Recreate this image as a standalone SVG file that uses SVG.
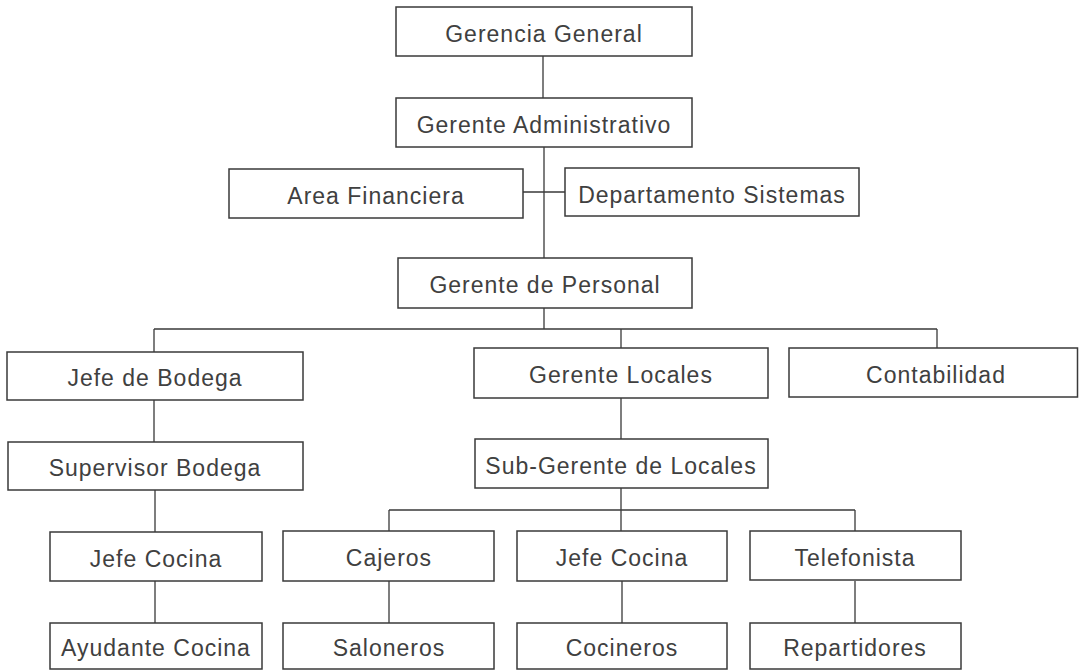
<svg xmlns="http://www.w3.org/2000/svg" width="1079" height="670" viewBox="0 0 1079 670">
<style>
.box{fill:#fff;stroke:#3a3a3a;stroke-width:1.5}
.lbl{font-family:"Liberation Sans",Arial,sans-serif;font-size:23px;letter-spacing:1px;fill:#404040;text-anchor:middle}
.con{stroke:#3a3a3a;stroke-width:1.3;fill:none}
</style>
<rect width="1079" height="670" fill="#fff"/>
<g id="connectors">
<path class="con" d="M543 56V98M544 147V258M523 192H565M544 308V329M154 329H937M154 329V352M621 329V348M937 329V348M154 400V442M621 398V439M155 490V532M621 488V531M389 510H855M389 510V531M855 510V531M155 581V623M389 581V623M622 581V623M855 581V623"/>
</g>
<g id="gerencia-general"><rect class="box" x="396" y="7" width="296" height="49"/><text class="lbl" x="544" y="42">Gerencia General</text></g>
<g id="gerente-administrativo"><rect class="box" x="396" y="98" width="296" height="49"/><text class="lbl" x="544" y="133">Gerente Administrativo</text></g>
<g id="area-financiera"><rect class="box" x="229" y="169" width="294" height="49"/><text class="lbl" x="376" y="204">Area Financiera</text></g>
<g id="departamento-sistemas"><rect class="box" x="565" y="168" width="294" height="48"/><text class="lbl" x="712" y="203">Departamento Sistemas</text></g>
<g id="gerente-personal"><rect class="box" x="398" y="258" width="294" height="50"/><text class="lbl" x="545" y="293">Gerente de Personal</text></g>
<g id="jefe-bodega"><rect class="box" x="7" y="352" width="296" height="48"/><text class="lbl" x="155" y="386">Jefe de Bodega</text></g>
<g id="gerente-locales"><rect class="box" x="474" y="348" width="294" height="50"/><text class="lbl" x="621" y="383">Gerente Locales</text></g>
<g id="contabilidad"><rect class="box" x="789" y="348" width="288.5" height="49"/><text class="lbl" x="936" y="383">Contabilidad</text></g>
<g id="supervisor-bodega"><rect class="box" x="8" y="442" width="295" height="48"/><text class="lbl" x="155" y="476">Supervisor Bodega</text></g>
<g id="sub-gerente-locales"><rect class="box" x="475" y="439" width="293" height="49"/><text class="lbl" x="621" y="474">Sub-Gerente de Locales</text></g>
<g id="jefe-cocina-1"><rect class="box" x="50" y="532" width="212" height="49"/><text class="lbl" x="156" y="567">Jefe Cocina</text></g>
<g id="cajeros"><rect class="box" x="283" y="531" width="211" height="50"/><text class="lbl" x="389" y="566">Cajeros</text></g>
<g id="jefe-cocina-2"><rect class="box" x="517" y="531" width="210" height="50"/><text class="lbl" x="622" y="566">Jefe Cocina</text></g>
<g id="telefonista"><rect class="box" x="750" y="531" width="211" height="49"/><text class="lbl" x="855" y="566">Telefonista</text></g>
<g id="ayudante-cocina"><rect class="box" x="50" y="623" width="212" height="46"/><text class="lbl" x="156" y="656">Ayudante Cocina</text></g>
<g id="saloneros"><rect class="box" x="283" y="623" width="211" height="46"/><text class="lbl" x="389" y="656">Saloneros</text></g>
<g id="cocineros"><rect class="box" x="517" y="623" width="210" height="46"/><text class="lbl" x="622" y="656">Cocineros</text></g>
<g id="repartidores"><rect class="box" x="750" y="623" width="211" height="46"/><text class="lbl" x="855" y="656">Repartidores</text></g>
</svg>
